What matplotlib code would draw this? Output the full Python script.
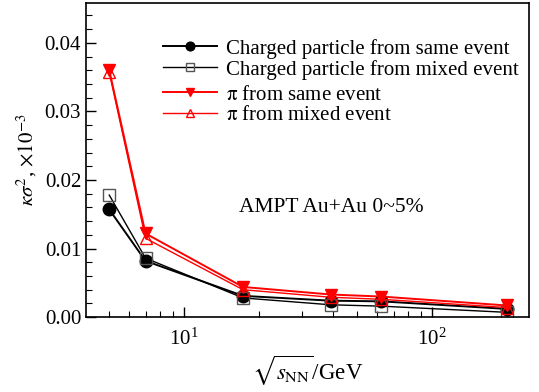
import matplotlib
matplotlib.use('Agg')
import matplotlib.pyplot as plt
from matplotlib.ticker import LogLocator, MultipleLocator, FixedLocator
import numpy as np

# Data
energy = [5, 7, 17.3, 39, 62.4, 200]
ch_same = [0.0157, 0.0082, 0.0031, 0.0024, 0.0023, 0.0012]
ch_mixed = [0.0178, 0.0086, 0.0028, 0.0018, 0.0016, 0.0007]
pi_same = [0.0360, 0.0122, 0.0044, 0.0033, 0.0030, 0.0017]
pi_mixed = [0.0357, 0.0115, 0.0040, 0.0029, 0.0026, 0.0014]

plt.rcParams['font.family'] = 'Liberation Serif'
plt.rcParams['mathtext.fontset'] = 'stix'

fig = plt.figure(figsize=(5.39, 3.92), dpi=100)
ax = fig.add_axes([0.1596, 0.191, 0.822, 0.801])

l1, = ax.plot(energy, ch_same, color='black', lw=1.4, marker='o', ms=9,
              mfc='black', mec='black', label='Charged particle from same event')
l2, = ax.plot(energy, ch_mixed, color='black', lw=1.0, marker='s', ms=9,
              mfc='none', mec='#555555', mew=1.0, label='Charged particle from mixed event')
l3, = ax.plot(energy, pi_same, color='red', lw=1.4, marker='v', ms=9,
              mfc='red', mec='red', label=r'$\mathrm{\pi}$ from same event')
l4, = ax.plot(energy, pi_mixed, color='red', lw=1.0, marker='^', ms=9,
              mfc='none', mec='red', mew=1.0, label=r'$\mathrm{\pi}$ from mixed event')

ax.set_xscale('log')
ax.set_xlim(4.03, 246)
ax.set_ylim(0, 0.0458)

ax.yaxis.set_major_locator(FixedLocator([0.0, 0.01, 0.02, 0.03, 0.04]))
ax.yaxis.set_major_formatter(matplotlib.ticker.FormatStrFormatter('%.2f'))
ax.yaxis.set_minor_locator(MultipleLocator(0.002))
ax.xaxis.set_major_locator(LogLocator(base=10))
ax.xaxis.set_minor_locator(LogLocator(base=10, subs=np.arange(2, 10)))
ax.xaxis.set_minor_formatter(matplotlib.ticker.NullFormatter())

ax.tick_params(which='both', direction='in', top=False, right=False, labelsize=15)
ax.tick_params(which='major', length=7, width=1.0)
ax.tick_params(which='minor', length=4, width=0.8)
ax.tick_params(axis='x', pad=8)
for sp in ax.spines.values():
    sp.set_linewidth(1.2)

ax.set_ylabel(r'$\kappa\sigma^2$, $\times10^{-3}$', fontsize=15, labelpad=4)
ax.set_xlabel(r'$\sqrt{s_{\mathrm{NN}}}$/GeV', fontsize=16.5, labelpad=3)

leg_kw = dict(loc='upper left', frameon=False, fontsize=15, handlelength=2.6,
              handletextpad=0.4, labelspacing=0.05, borderaxespad=0, markerscale=0.7)
leg1 = ax.legend(handles=[l1, l2], bbox_to_anchor=(0.155, 0.913), **leg_kw)
ax.add_artist(leg1)
ax.legend(handles=[l3, l4], bbox_to_anchor=(0.155, 0.766), **leg_kw)

ax.text(0.345, 0.35, 'AMPT Au+Au 0~5%', transform=ax.transAxes, fontsize=15.5,
        va='center', ha='left')

fig.savefig('out.png', dpi=100)
